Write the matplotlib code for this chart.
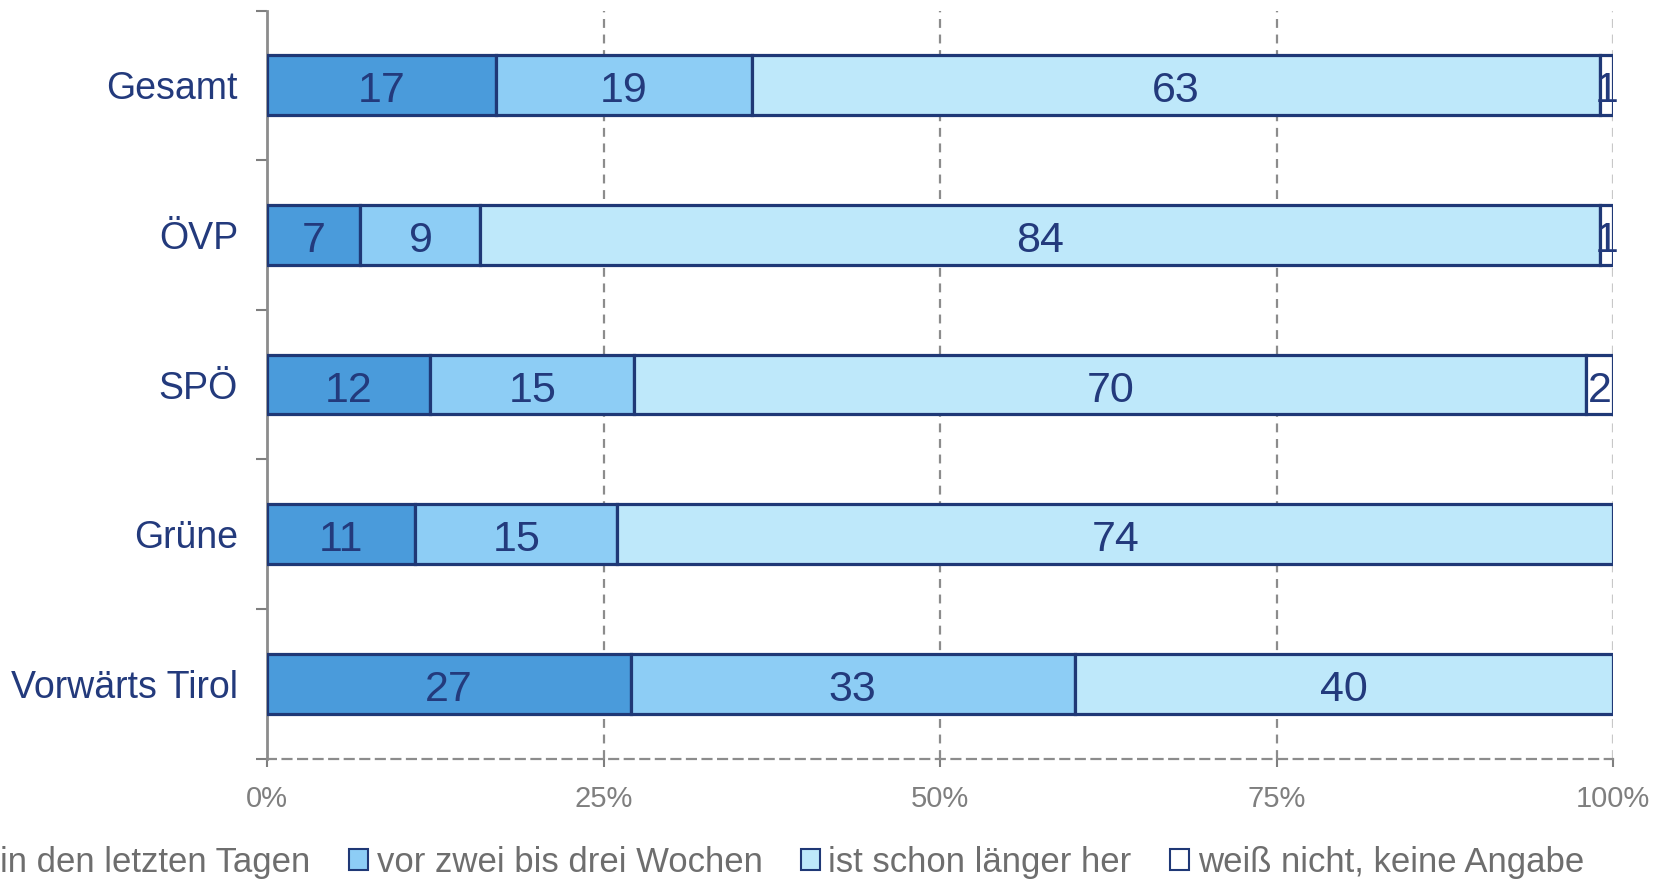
import matplotlib
matplotlib.use("Agg")
import matplotlib.pyplot as plt
from matplotlib.patches import Patch
from matplotlib import font_manager
import numpy as np

categories = ["Gesamt", "ÖVP", "SPÖ", "Grüne", "Vorwärts Tirol"]
series_names = ["in den letzten Tagen", "vor zwei bis drei Wochen",
                "ist schon länger her", "weiß nicht, keine Angabe"]
s_tage = [17, 7, 12, 11, 27]
s_wochen = [19, 9, 15, 15, 33]
s_laenger = [63, 84, 70, 74, 40]
s_weissnicht = [1, 1, 2, 0, 0]
x_ticks = [0, 25, 50, 75, 100]
x_ticklabels = ["0%", "25%", "50%", "75%", "100%"]

colors = ["#4A9BDB", "#8DCDF5", "#BEE8FA", "#FFFFFF"]
edge = "#1F3876"
navy = "#233A7C"
gray = "#7F7F7F"

names = {f.name for f in font_manager.fontManager.ttflist}
font = "Liberation Sans" if "Liberation Sans" in names else "DejaVu Sans"
plt.rcParams["font.family"] = [font, "DejaVu Sans"]

fig = plt.figure(figsize=(16.7, 8.8), dpi=100)
ax = fig.add_axes([0.160, 0.138, 0.806, 0.850])

data = np.array([s_tage, s_wochen, s_laenger, s_weissnicht], dtype=float)
totals = data.sum(axis=0)
pct = data / totals * 100
y = np.arange(len(categories))
left = np.zeros(len(categories))
for i in range(4):
    mask = data[i] > 0
    ax.barh(y[mask], pct[i][mask], left=left[mask], height=0.4,
            color=colors[i], edgecolor=edge, linewidth=2.3, zorder=3)
    for j in range(len(categories)):
        if data[i][j] > 0:
            ax.text(left[j] + pct[i][j] / 2, y[j] + 0.01, f"{int(data[i][j])}",
                    ha="center", va="center_baseline", fontsize=31, color=navy, zorder=4)
    left += pct[i]

ax.set_xlim(0, 100)
ax.set_ylim(len(categories) - 0.5, -0.5)

ax.set_xticks(x_ticks)
ax.set_xticklabels(x_ticklabels, fontsize=21, color=gray)
ax.tick_params(axis="x", length=6, width=1.5, color=gray, pad=13)
for xv in x_ticks[1:]:
    ax.axvline(xv, color="#8C8C8C" if xv < 100 else "#C8C8C8",
               linestyle=(0, (4, 3)), linewidth=1.6, zorder=1)

ax.set_yticks(y)
ax.set_yticklabels(categories, fontsize=27, color=navy)
ax.tick_params(axis="y", length=0, pad=21)
ax.set_yticks(np.arange(-0.5, len(categories), 1.0), minor=True)
ax.tick_params(axis="y", which="minor", length=8, width=1.5, color=gray)

for s in ["top", "right"]:
    ax.spines[s].set_visible(False)
ax.spines["left"].set_color("#8C8C8C")
ax.spines["left"].set_linewidth(2)
ax.spines["bottom"].set_color("#8C8C8C")
ax.spines["bottom"].set_linewidth(1.6)
ax.spines["bottom"].set_linestyle((0, (4, 3)))

handles = [Patch(facecolor=c, edgecolor=edge, linewidth=1.5) for c in colors]
leg = fig.legend(handles, series_names, loc="center", bbox_to_anchor=(0.466, 0.020),
                 ncol=4, frameon=False, fontsize=25, handlelength=0.55, handleheight=0.55,
                 handletextpad=0.25, columnspacing=1.1, borderaxespad=0)
for t in leg.get_texts():
    t.set_color("#6E6E6E")

fig.savefig("out.png", dpi=100)
